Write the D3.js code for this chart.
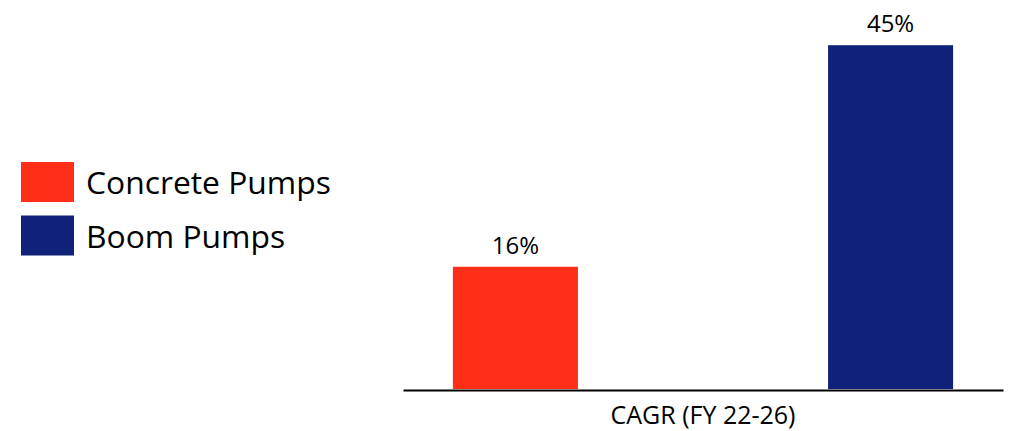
<!DOCTYPE html>
<html>
<head>
<meta charset="utf-8">
<script src="https://cdn.jsdelivr.net/npm/d3@7"></script>
<style>
  html, body { margin: 0; padding: 0; background: #fff; }
  svg { display: block; }
  text { font-family: "Open Sans", sans-serif; fill: #000; }
</style>
</head>
<body>
<svg id="chart" width="1010" height="431"></svg>
<script>
const categories = ["CAGR (FY 22-26)"];
const seriesNames = ["Concrete Pumps", "Boom Pumps"];
const seriesValues = [[16], [45]];
const seriesColors = ["#FF2E18", "#10217A"];
const valueLabels = [["16%"], ["45%"]];

const svg = d3.select("#chart");
const plot = { left: 403, right: 1003, top: 7, bottom: 389 };

const x0 = d3.scaleBand().domain(categories).range([plot.left, plot.right]).padding(0);
const x1 = d3.scaleBand().domain(seriesNames).range([0, x0.bandwidth()])
  .paddingInner(2 / 3).paddingOuter(0.133);
const y = d3.scaleLinear().domain([0, 50]).range([plot.bottom, plot.top]);

const g = svg.append("g");
categories.forEach((cat, ci) => {
  seriesNames.forEach((s, si) => {
    const v = seriesValues[si][ci];
    const bx = x0(cat) + x1(s);
    g.append("rect")
      .attr("x", bx).attr("y", y(v))
      .attr("width", x1.bandwidth()).attr("height", y(0) - y(v))
      .attr("fill", seriesColors[si]);
    g.append("text")
      .attr("x", bx + x1.bandwidth() / 2)
      .attr("y", y(v) - 13)
      .attr("text-anchor", "middle")
      .style("font-size", "24px")
      .text(valueLabels[si][ci]);
  });
});

// category axis
const axis = svg.append("g").attr("transform", `translate(0,${plot.bottom + 1})`)
  .call(d3.axisBottom(x0).tickSize(0).tickPadding(0));
axis.select(".domain").attr("stroke", "#000").attr("stroke-width", 2);
axis.selectAll(".tick text")
  .attr("y", 34)
  .attr("dy", 0)
  .style("font-family", "'Open Sans', sans-serif")
  .style("font-size", "25px")
  .attr("fill", "#000");

// legend
const legend = svg.append("g");
seriesNames.forEach((s, i) => {
  const ly = 162 + i * 53.5;
  legend.append("rect")
    .attr("x", 21).attr("y", ly).attr("width", 53).attr("height", 40)
    .attr("fill", seriesColors[i]);
  legend.append("text")
    .attr("x", 86).attr("y", ly + 32)
    .style("font-size", "31.8px")
    .text(s);
});
</script>
</body>
</html>
